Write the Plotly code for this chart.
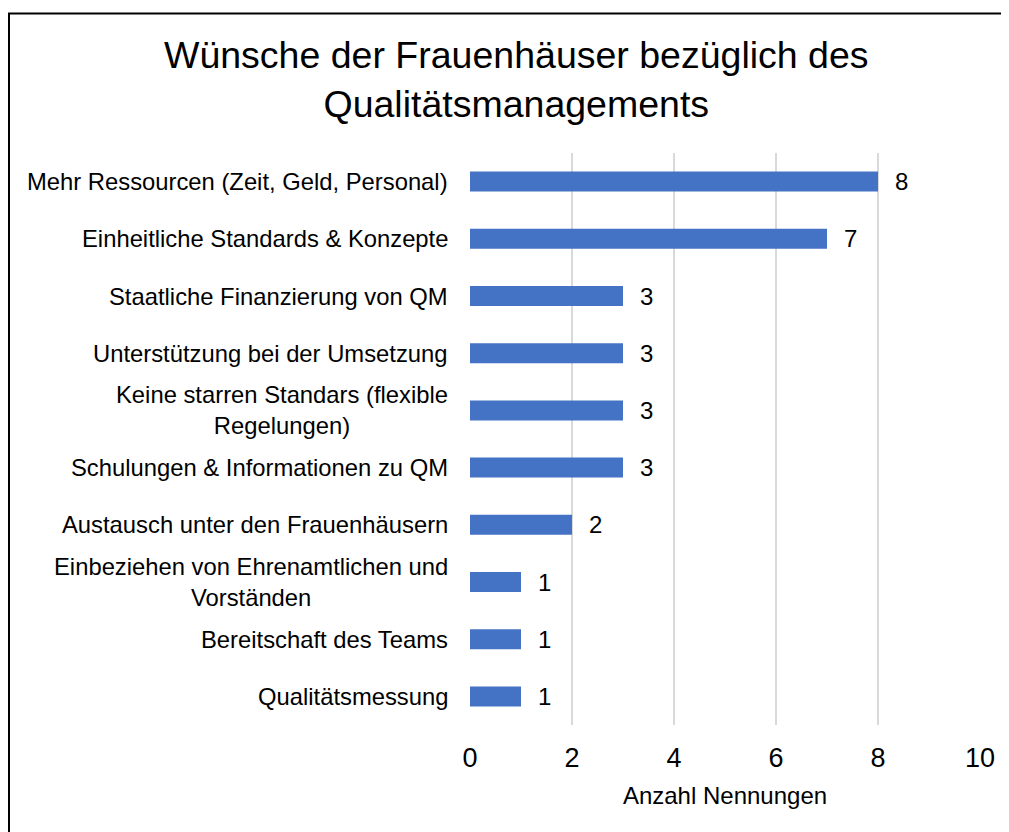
import plotly.graph_objects as go

categories = [
    "Mehr Ressourcen (Zeit, Geld, Personal)",
    "Einheitliche Standards & Konzepte",
    "Staatliche Finanzierung von QM",
    "Unterstützung bei der Umsetzung",
    "Keine starren Standars (flexible<br>Regelungen)",
    "Schulungen & Informationen zu QM",
    "Austausch unter den Frauenhäusern",
    "Einbeziehen von Ehrenamtlichen und<br>Vorständen",
    "Bereitschaft des Teams",
    "Qualitätsmessung",
]
values = [8, 7, 3, 3, 3, 3, 2, 1, 1, 1]
x_ticks = [0, 2, 4, 6, 8, 10]
title_text = "Wünsche der Frauenhäuser bezüglich des<br>Qualitätsmanagements"
x_title = "Anzahl Nennungen"

FONT = "Liberation Sans, Arial, sans-serif"
# page has an 8px body margin; figure coordinates are page - 8
W, H = 1001, 824
L, R, T, B = 462, 29, 145, 107
pw, ph = W - L - R, H - T - B

fig = go.Figure(go.Bar(
    x=values, y=categories, orientation="h",
    marker=dict(color="#4472C4", line=dict(width=0)),
    hoverinfo="x+y",
))

annotations = []
for c, v in zip(categories, values):
    annotations.append(dict(x=v, y=c, xref="x", yref="y", text=str(v),
                            showarrow=False, xanchor="left", xshift=15,
                            font=dict(family=FONT, size=24, color="#000")))
    annotations.append(dict(x=0, y=c, xref="paper", yref="y", text=c,
                            showarrow=False, xanchor="right", xshift=-20,
                            align="center",
                            font=dict(family=FONT, size=23.8, color="#000")))

annotations.append(dict(text=title_text, xref="paper", yref="paper",
                        x=(508 - L) / pw, y=(T + ph - 71.5) / ph,
                        xanchor="center", yanchor="middle", align="center",
                        showarrow=False,
                        font=dict(family=FONT, size=37.5, color="#000")))

fig.update_layout(
    width=W, height=H,
    margin=dict(l=L, r=R, t=T, b=B, pad=0),
    paper_bgcolor="white", plot_bgcolor="white",
    bargap=0.65,
    showlegend=False,
    xaxis=dict(range=[0, 10], tickvals=x_ticks, showgrid=True,
               gridcolor="#d9d9d9", gridwidth=2, zeroline=False,
               showline=False, ticks="", ticklabelstandoff=14,
               tickfont=dict(family=FONT, size=27, color="#000"),
               title=dict(text=x_title, standoff=15,
                          font=dict(family=FONT, size=24, color="#000"))),
    yaxis=dict(autorange="reversed", showticklabels=False, showgrid=False,
               zeroline=False, showline=False, ticks=""),
    annotations=annotations,
    shapes=[dict(type="rect", xref="paper", yref="paper",
                 x0=(1 - L) / pw, x1=(W + 10 - L) / pw,
                 y0=-(H + 10 - T - ph) / ph, y1=(T + ph - 5.5) / ph,
                 line=dict(color="black", width=2), layer="above")],
)

fig.write_html("out.html")
